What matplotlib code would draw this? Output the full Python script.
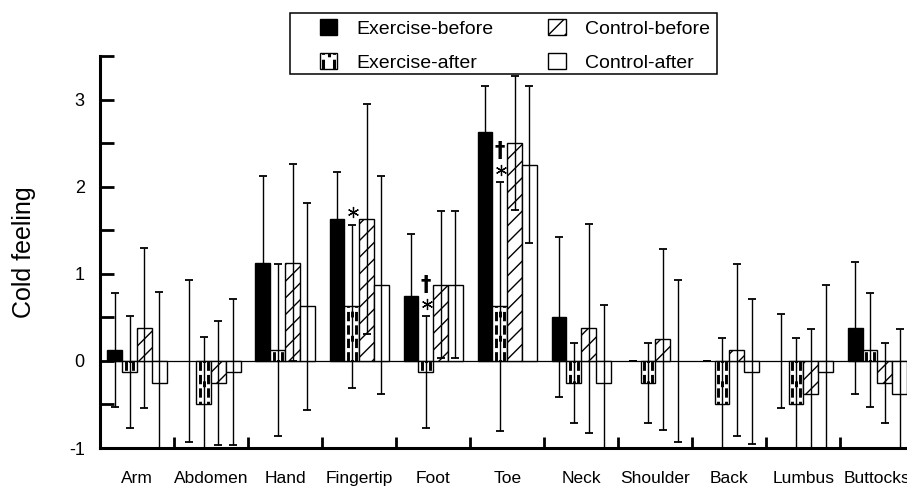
import numpy as np
import matplotlib
matplotlib.use("Agg")
import matplotlib.pyplot as plt
from matplotlib.patches import Rectangle, Patch
from matplotlib.lines import Line2D
from matplotlib.legend_handler import HandlerBase

plt.rcParams['font.family'] = ['Liberation Sans', 'DejaVu Sans']
plt.rcParams['hatch.linewidth'] = 1.0

# body sites and the four conditions (mean cold feeling score, SD)
sites = ['Arm', 'Abdomen', 'Hand', 'Fingertip', 'Foot', 'Toe',
         'Neck', 'Shoulder', 'Back', 'Lumbus', 'Buttocks']
series_names = ['Exercise-before', 'Exercise-after', 'Control-before', 'Control-after']

ex_before = [0.125, 0.0, 1.125, 1.625, 0.75, 2.625, 0.5, 0.0, 0.0, 0.0, 0.375]
ex_after = [-0.125, -0.5, 0.125, 0.625, -0.125, 0.625, -0.25, -0.25, -0.5, -0.5, 0.125]
ct_before = [0.375, -0.25, 1.125, 1.625, 0.875, 2.5, 0.375, 0.25, 0.125, -0.375, -0.25]
ct_after = [-0.25, -0.125, 0.625, 0.875, 0.875, 2.25, -0.25, 0.0, -0.125, -0.125, -0.375]

ex_before_sd = [0.65, 0.93, 1.0, 0.54, 0.71, 0.53, 0.92, 0.0, 0.0, 0.54, 0.76]
ex_after_sd = [0.64, 0.77, 0.99, 0.94, 0.64, 1.43, 0.46, 0.46, 0.76, 0.76, 0.65]
ct_before_sd = [0.92, 0.71, 1.13, 1.32, 0.84, 0.77, 1.2, 1.04, 0.99, 0.74, 0.46]
ct_after_sd = [1.04, 0.84, 1.19, 1.25, 0.84, 0.9, 0.89, 0.93, 0.83, 1.0, 0.74]

# significance marks on Exercise-after: (site, symbol)
marks = [('Fingertip', '*'), ('Foot', '*'), ('Foot', '\u2020'),
         ('Toe', '*'), ('Toe', '\u2020')]

means = [ex_before, ex_after, ct_before, ct_after]
sds = [ex_before_sd, ex_after_sd, ct_before_sd, ct_after_sd]

fig = plt.figure(figsize=(9.07, 4.90), dpi=100)
ax = fig.add_axes([100 / 907, 42 / 490, 814.5 / 907, 392 / 490])

x = np.arange(len(sites))
width = 0.2
offsets = [-0.3, -0.1, 0.1, 0.3]
faces = ['black', 'white', 'white', 'white']
hatches = [None, None, '//', None]

ax.axhline(0, color='black', lw=0.9, zorder=1)


def dotted_fill(ax, xl, w, y0, y1, lw=2.1):
    # dashed columns near the edges with a dotted column in the middle
    kw = dict(color='black', lw=lw, solid_capstyle='butt', dash_capstyle='butt', zorder=2.5)
    for f in (0.24, 0.76):
        ax.plot([xl + f * w] * 2, [y0, y1], ls=(0, (3.2, 1.4)), **kw)
    ax.plot([xl + 0.5 * w] * 2, [y0, y1], ls=(1.5, (2.0, 6.3)), **kw)


for k in range(4):
    xs = x + offsets[k]
    edge_w = [1.0 if v != 0 else 0.0 for v in means[k]]
    ax.bar(xs, means[k], width, color=faces[k], edgecolor='black', lw=edge_w,
           hatch=hatches[k], zorder=2)
    if k == 1:
        for xi, v in zip(xs, means[k]):
            if v != 0:
                dotted_fill(ax, xi - width / 2, width, 0, v)
    ax.errorbar(xs, means[k], yerr=sds[k], fmt='none', ecolor='black',
                elinewidth=1.0, capsize=2.6, capthick=1.3, zorder=3)

for site, sym in marks:
    i = sites.index(site)
    top = ex_after[i] + ex_after_sd[i]
    xs = x[i] + offsets[1]
    if sym == '*':
        ax.plot(xs + 0.02, top + 0.14, marker=(6, 2, 0), ms=8, mew=0.9,
                color='black', zorder=4, clip_on=False)
    else:
        ax.text(xs, top + 0.36, sym, ha='center', va='center', fontsize=15,
                fontweight='bold', family='DejaVu Sans', zorder=4)

ax.set_xlim(-0.5, len(sites) - 0.5)
ax.set_ylim(-1, 3.5)

ax.set_yticks([-1, 0, 1, 2, 3], labels=['-1', '0', '1', '2', '3'])
ax.set_yticks(np.arange(-0.5, 3.6, 1.0), minor=True)
ax.tick_params(axis='y', which='both', direction='in', length=10, width=2.0,
               labelsize=13, pad=11)

ax.set_xticks(x, labels=sites)
ax.set_xticks(x[:-1] + 0.5, minor=True)
ax.tick_params(axis='x', which='major', length=0, labelsize=12.5, pad=16.5)
ax.tick_params(axis='x', which='minor', direction='in', length=8, width=2.0)

for s in ('top', 'right'):
    ax.spines[s].set_visible(False)
for s in ('left', 'bottom'):
    ax.spines[s].set_linewidth(2.2)

ax.set_ylabel('Cold feeling', fontsize=18, labelpad=24)


class DottedHandler(HandlerBase):
    def create_artists(self, legend, orig_handle, xdescent, ydescent,
                       width, height, fontsize, trans):
        x0, y0 = -xdescent, -ydescent
        rect = Rectangle((x0, y0), width, height, facecolor='white',
                         edgecolor='black', lw=1.0, transform=trans)
        arts = [rect]
        for f in (0.2, 0.8):
            arts.append(Line2D([x0 + f * width] * 2, [y0, y0 + height], color='black',
                               lw=2.2, ls=(0, (3.2, 1.6)), dash_capstyle='butt',
                               transform=trans))
        arts.append(Line2D([x0 + 0.5 * width] * 2, [y0, y0 + height], color='black',
                           lw=2.2, ls=(2.0, (2.0, 4.0)), dash_capstyle='butt',
                           transform=trans))
        return arts


handles = [Patch(facecolor='black', edgecolor='black'),
           Patch(facecolor='white', edgecolor='black', label='dotted'),
           Patch(facecolor='white', edgecolor='black', hatch='//'),
           Patch(facecolor='white', edgecolor='black')]
dotted_handle = handles[1]

fig.add_artist(Rectangle((290 / 907, 1 - 74 / 490), 427 / 907, 61 / 490,
                         transform=fig.transFigure, facecolor='white',
                         edgecolor='black', lw=1.1, zorder=5))
leg = fig.legend(handles, series_names, ncol=2, frameon=False, fontsize=14,
                 loc='center', bbox_to_anchor=(515 / 907, 1 - 45.5 / 490),
                 bbox_transform=fig.transFigure, borderpad=0, borderaxespad=0,
                 handlelength=0.9, handleheight=0.9, handletextpad=1.0,
                 columnspacing=2.8, labelspacing=0.8,
                 handler_map={dotted_handle: DottedHandler()})
leg.set_zorder(6)

fig.savefig('out.png', dpi=100)
